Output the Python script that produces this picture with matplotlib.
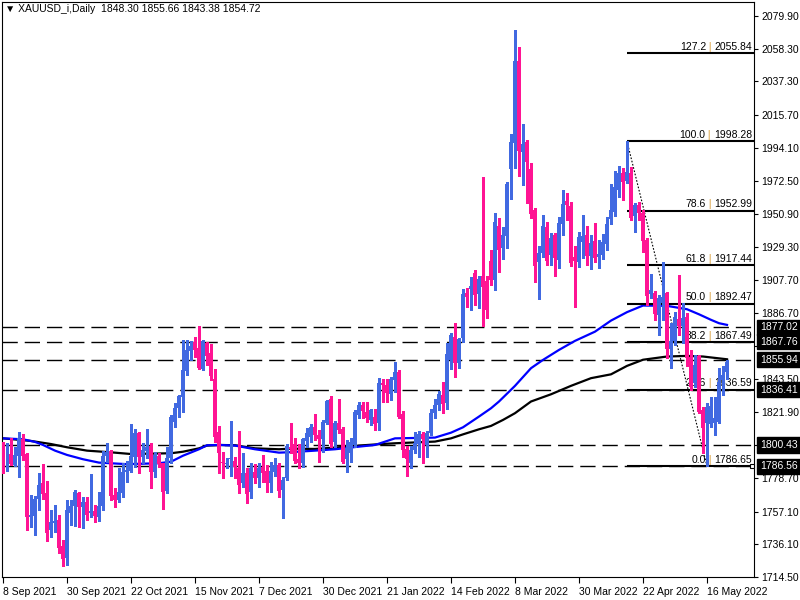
import matplotlib
matplotlib.use("Agg")
import matplotlib.pyplot as plt
import matplotlib.transforms as mtransforms
import numpy as np

plt.rcParams["font.family"] = ["Liberation Sans", "DejaVu Sans"]

# daily OHLC, one entry per bar (bar 0 = 8 Sep 2021)
opens = [1796.1, 1789.6, 1794.6, 1787.5, 1793.3, 1804.4, 1794.6, 1753.4, 1754.5, 1765.1,
         1775.5, 1769.0, 1745.1, 1749.9, 1751.6, 1734.9, 1727.1, 1756.0, 1760.8, 1769.0,
         1760.3, 1763.4, 1756.4, 1757.5, 1753.8, 1760.8, 1793.3, 1796.6, 1767.9, 1764.7,
         1769.4, 1783.1, 1783.8, 1792.9, 1808.1, 1792.9, 1796.6, 1799.8, 1783.1, 1793.3,
         1788.6, 1770.7, 1792.2, 1815.7, 1824.4, 1832.0, 1848.9, 1861.9, 1867.8, 1863.4,
         1849.8, 1867.1, 1860.2, 1843.3, 1809.2, 1789.6, 1788.1, 1791.1, 1790.0, 1785.3,
         1775.5, 1782.0, 1770.1, 1783.2, 1779.2, 1786.0, 1783.8, 1776.0, 1783.2, 1787.5,
         1771.2, 1778.8, 1799.0, 1801.2, 1791.4, 1789.0, 1803.4, 1805.9, 1812.0, 1807.0,
         1804.2, 1815.1, 1830.3, 1802.7, 1814.6, 1810.9, 1791.2, 1795.1, 1800.5, 1820.1,
         1826.6, 1822.2, 1816.8, 1819.0, 1814.6, 1840.7, 1839.6, 1833.7, 1842.8, 1847.8,
         1820.5, 1797.7, 1789.0, 1797.2, 1801.1, 1807.4, 1800.5, 1808.5, 1821.1, 1826.6,
         1833.1, 1827.6, 1855.9, 1870.6, 1854.1, 1870.0, 1899.3, 1902.3, 1912.3, 1898.8,
         1910.6, 1907.3, 1920.6, 1908.0, 1943.1, 1928.6, 1936.6, 1980.3, 1997.4, 2050.6,
         1991.5, 1997.8, 1980.3, 1953.6, 1919.9, 1925.8, 1942.3, 1924.2, 1937.3, 1921.0,
         1944.4, 1959.4, 1956.2, 1922.7, 1919.9, 1933.0, 1937.3, 1923.6, 1933.6, 1923.2,
         1924.2, 1931.4, 1947.5, 1952.5, 1966.6, 1977.4, 1972.7, 1977.9, 1949.7, 1956.8,
         1951.4, 1934.0, 1898.9, 1899.7, 1885.2, 1893.0, 1899.7, 1862.8, 1868.0, 1882.4,
         1877.7, 1883.7, 1858.1, 1840.7, 1858.5, 1823.3, 1814.6, 1814.2, 1814.6, 1815.7,
         1842.9, 1848.30]
highs = [1802.7, 1802.0, 1804.8, 1799.4, 1809.0, 1807.7, 1795.1, 1767.9, 1767.5, 1782.0,
         1788.1, 1777.0, 1758.2, 1761.4, 1754.9, 1738.6, 1764.7, 1764.7, 1771.2, 1770.1,
         1766.8, 1766.8, 1781.6, 1761.2, 1769.9, 1796.6, 1801.6, 1797.2, 1772.3, 1785.3,
         1788.6, 1790.1, 1814.2, 1810.7, 1809.2, 1801.6, 1810.9, 1801.6, 1796.1, 1795.1,
         1789.0, 1799.4, 1820.0, 1827.6, 1833.1, 1868.9, 1868.9, 1868.4, 1871.0, 1878.0,
         1868.9, 1867.8, 1866.3, 1849.8, 1812.9, 1796.1, 1791.8, 1816.3, 1792.5, 1809.6,
         1795.5, 1785.3, 1788.6, 1788.1, 1788.6, 1794.0, 1787.5, 1789.7, 1791.8, 1788.6,
         1779.5, 1801.0, 1815.1, 1804.9, 1801.2, 1804.9, 1811.4, 1814.2, 1820.7, 1810.3,
         1816.8, 1829.8, 1832.4, 1816.4, 1830.3, 1812.5, 1803.8, 1804.9, 1823.3, 1828.7,
         1828.7, 1828.7, 1823.8, 1823.8, 1843.9, 1843.3, 1843.3, 1845.0, 1854.3, 1849.3,
         1822.9, 1799.8, 1799.8, 1809.2, 1809.6, 1809.2, 1809.6, 1823.7, 1830.3, 1835.9,
         1841.7, 1866.7, 1873.2, 1879.7, 1870.0, 1901.9, 1902.5, 1909.7, 1914.5, 1910.6,
         1975.3, 1910.6, 1927.5, 1951.4, 1948.1, 1942.3, 1971.5, 2003.1, 2070.8, 2059.5,
         2009.6, 1999.1, 1984.0, 1954.6, 1930.1, 1950.3, 1946.0, 1938.4, 1938.8, 1949.2,
         1966.6, 1964.8, 1959.0, 1930.1, 1939.4, 1950.3, 1943.1, 1937.3, 1945.3, 1934.0,
         1937.9, 1949.2, 1970.5, 1979.2, 1982.2, 1980.7, 1998.28, 1981.8, 1958.4, 1959.0,
         1953.6, 1935.1, 1911.9, 1901.0, 1898.2, 1919.9, 1900.4, 1880.0, 1887.4, 1911.2,
         1892.8, 1886.3, 1862.4, 1859.1, 1859.1, 1825.5, 1827.7, 1832.0, 1832.0, 1850.5,
         1851.6, 1855.66]
lows = [1782.5, 1783.8, 1787.5, 1786.8, 1779.9, 1790.7, 1745.1, 1747.3, 1741.9, 1758.2,
        1765.1, 1738.2, 1740.8, 1744.0, 1729.9, 1721.9, 1722.3, 1748.4, 1747.7, 1747.3,
        1746.2, 1751.6, 1753.8, 1750.6, 1751.2, 1758.2, 1789.6, 1764.7, 1760.3, 1763.5,
        1766.8, 1776.6, 1783.1, 1786.4, 1782.5, 1788.6, 1791.8, 1772.3, 1779.9, 1786.4,
        1758.6, 1769.0, 1788.6, 1812.4, 1818.9, 1822.2, 1846.1, 1855.8, 1858.0, 1849.8,
        1849.3, 1852.6, 1842.8, 1802.7, 1782.0, 1778.8, 1785.3, 1780.3, 1779.0, 1769.4,
        1773.3, 1762.5, 1766.2, 1776.0, 1772.9, 1776.6, 1770.1, 1770.1, 1780.3, 1766.9,
        1752.8, 1777.7, 1795.1, 1788.6, 1785.3, 1786.0, 1799.4, 1802.7, 1803.8, 1789.7,
        1796.2, 1814.2, 1799.4, 1799.4, 1808.1, 1788.6, 1783.2, 1789.7, 1799.4, 1817.9,
        1817.9, 1815.7, 1813.6, 1810.3, 1810.3, 1828.7, 1828.7, 1829.8, 1835.2, 1817.9,
        1792.5, 1780.5, 1785.7, 1795.5, 1792.9, 1789.0, 1792.5, 1807.0, 1817.9, 1823.3,
        1821.6, 1823.7, 1849.8, 1844.6, 1850.4, 1867.8, 1890.6, 1888.4, 1891.7, 1889.9,
        1878.0, 1883.0, 1905.0, 1901.5, 1913.4, 1921.6, 1929.0, 1960.7, 1980.7, 1975.7,
        1969.8, 1958.3, 1948.1, 1906.9, 1895.4, 1922.7, 1917.7, 1917.7, 1910.6, 1915.6,
        1937.3, 1947.0, 1917.1, 1890.2, 1916.2, 1922.1, 1917.7, 1914.9, 1919.9, 1915.6,
        1921.4, 1927.5, 1944.4, 1949.6, 1962.2, 1960.1, 1971.4, 1947.1, 1939.5, 1947.1,
        1926.4, 1891.7, 1896.1, 1882.0, 1872.2, 1882.0, 1857.0, 1850.5, 1865.7, 1872.2,
        1866.7, 1852.0, 1836.4, 1838.5, 1821.1, 1795.1, 1786.65, 1812.5, 1807.0, 1814.6,
        1833.1, 1843.38]
closes = [1783.1, 1795.5, 1788.1, 1794.0, 1804.8, 1793.3, 1753.4, 1754.9, 1765.3, 1774.4,
          1768.4, 1743.0, 1750.1, 1751.0, 1733.6, 1726.2, 1758.2, 1760.8, 1769.9, 1760.3,
          1763.6, 1754.9, 1757.5, 1754.5, 1760.8, 1793.3, 1796.1, 1767.3, 1764.7, 1770.1,
          1783.1, 1784.2, 1793.3, 1808.5, 1792.9, 1797.2, 1799.4, 1783.1, 1794.0, 1788.1,
          1770.1, 1792.2, 1818.9, 1824.4, 1832.4, 1849.3, 1862.4, 1865.0, 1862.4, 1850.4,
          1868.4, 1858.5, 1845.4, 1805.5, 1795.5, 1788.6, 1789.0, 1791.8, 1786.0, 1774.4,
          1782.0, 1768.6, 1785.3, 1778.8, 1785.3, 1782.1, 1775.6, 1783.8, 1787.5, 1770.8,
          1777.7, 1799.9, 1797.7, 1790.3, 1788.6, 1804.2, 1808.1, 1812.0, 1807.0, 1804.2,
          1815.7, 1829.4, 1801.2, 1815.1, 1810.3, 1789.7, 1798.4, 1802.7, 1822.2, 1826.6,
          1822.7, 1817.9, 1823.3, 1814.2, 1840.7, 1839.6, 1834.6, 1843.3, 1847.8, 1818.9,
          1797.2, 1791.4, 1797.2, 1802.0, 1807.4, 1804.2, 1808.1, 1821.1, 1826.6, 1833.5,
          1827.0, 1859.8, 1872.1, 1853.7, 1869.3, 1898.8, 1897.1, 1904.0, 1898.2, 1908.6,
          1903.6, 1888.4, 1908.0, 1945.9, 1927.5, 1937.3, 1970.5, 1997.8, 2050.6, 1992.0,
          1996.5, 1985.0, 1950.9, 1917.1, 1925.3, 1943.1, 1920.6, 1935.1, 1922.1, 1945.3,
          1957.5, 1956.8, 1919.2, 1920.6, 1935.7, 1936.6, 1923.6, 1932.3, 1922.5, 1924.9,
          1932.9, 1944.4, 1953.6, 1968.3, 1977.4, 1972.0, 1978.5, 1948.2, 1956.8, 1951.8,
          1933.6, 1897.6, 1901.5, 1885.9, 1896.1, 1897.0, 1863.0, 1868.5, 1884.1, 1878.0,
          1883.0, 1857.0, 1838.5, 1852.6, 1822.2, 1811.4, 1825.5, 1825.9, 1817.9, 1841.8,
          1846.1, 1854.72]

# moving averages at a few bars
ma_fast_bars = [0, 5, 8, 10, 13, 16, 20, 24, 31, 39, 42, 45, 49, 51, 54, 58, 63, 69, 72,
                78, 83, 89, 93, 98, 108, 112, 115, 119, 122, 124, 128, 132, 135, 139, 143,
                148, 152, 156, 160, 166, 171, 174, 177, 179, 181]
ma_fast = [1804.8, 1804.2, 1802.5, 1800.5, 1796.8, 1794.0, 1791.2, 1789.0, 1788.0, 1788.6,
           1789.6, 1793.5, 1797.7, 1800.3, 1800.5, 1800.1, 1797.7, 1795.5, 1795.8, 1796.8,
           1797.7, 1799.4, 1800.5, 1804.8, 1805.3, 1808.5, 1812.0, 1819.0, 1824.4, 1828.8,
           1839.0, 1850.5, 1855.9, 1862.4, 1868.3, 1874.3, 1881.5, 1887.0, 1891.3, 1891.1,
           1888.9, 1885.6, 1882.0, 1879.8, 1878.7]
ma_slow_bars = [0, 7, 12, 16, 21, 27, 32, 42, 45, 49, 51, 54, 58, 63, 69, 72, 78, 83, 89,
                94, 98, 108, 112, 115, 119, 122, 125, 128, 132, 137, 142, 147, 152, 156,
                160, 166, 171, 175, 181]
ma_slow = [1804.8, 1803.1, 1801.1, 1799.0, 1796.8, 1795.7, 1794.6, 1795.1, 1796.1, 1798.3,
           1800.1, 1800.5, 1800.3, 1798.3, 1797.7, 1798.1, 1797.9, 1798.8, 1800.1, 1801.0,
           1801.6, 1802.7, 1804.8, 1807.4, 1810.7, 1812.9, 1816.8, 1821.2, 1828.8, 1833.5,
           1839.0, 1844.0, 1846.5, 1852.0, 1856.0, 1858.1, 1858.5, 1858.1, 1856.3]

# fibonacci retracement from bar 156 high to bar 176 low
fib_ratios = ["127.2", "100.0", "78.6", "61.8", "50.0", "38.2", "23.6", "0.0"]
fib_prices = [2055.84, 1998.28, 1952.99, 1917.44, 1892.47, 1867.49, 1836.59, 1786.65]
fib_from_bar, fib_to_bar = 156, 176

levels = [1877.02, 1867.76, 1855.94, 1836.41, 1800.43, 1786.56]

y_ticks = [2079.90, 2058.30, 2037.30, 2015.70, 1994.10, 1972.50, 1950.90, 1929.30,
           1907.70, 1886.70, 1865.10, 1843.50, 1821.90, 1800.30, 1778.70, 1757.10,
           1736.10, 1714.50]
hidden_ticks = [1865.10, 1800.30]  # covered by the price boxes
date_bars = [0, 16, 32, 48, 64, 80, 96, 112, 128, 144, 160, 176]
date_labels = ["8 Sep 2021", "30 Sep 2021", "22 Oct 2021", "15 Nov 2021", "7 Dec 2021",
               "30 Dec 2021", "21 Jan 2022", "14 Feb 2022", "8 Mar 2022", "30 Mar 2022",
               "22 Apr 2022", "16 May 2022"]

UP = "#4169E1"
DOWN = "#FF1493"
FS = 7.5

fig = plt.figure(figsize=(8, 6), dpi=100)
ax = fig.add_axes([2 / 800, 23 / 600, 752 / 800, 575 / 600])

o = np.array(opens)
h = np.array(highs)
l = np.array(lows)
c = np.array(closes)
x = np.arange(len(o))
col = np.where(c >= o, UP, DOWN)

# horizontal support/resistance lines
for lv in levels:
    ax.axhline(lv, color="black", lw=1.0, dashes=(11, 5), zorder=1)

# moving averages
ax.plot(ma_slow_bars, ma_slow, color="black", lw=1.6, zorder=2)
ax.plot(ma_fast_bars, ma_fast, color="#0000FF", lw=1.6, zorder=2)

# fibonacci lines + labels
xmax = 187.75
for r, p in zip(fib_ratios, fib_prices):
    ax.plot([fib_from_bar, xmax], [p, p], color="black", lw=1.5, zorder=2,
            solid_capstyle="butt")
    t_val = ax.annotate(f"{p:.2f}", xy=(xmax - 0.5, p), xytext=(0, 1),
                        textcoords="offset points", ha="right", va="bottom",
                        fontsize=FS, zorder=3)
    t_bar = ax.annotate(" | ", xy=(0, 0), xycoords=t_val, ha="right", va="bottom",
                        fontsize=FS, color="#D9A040", zorder=3)
    ax.annotate(r, xy=(0, 0), xycoords=t_bar, ha="right", va="bottom",
                fontsize=FS, zorder=3)
ax.plot([fib_from_bar, fib_to_bar], [fib_prices[1], fib_prices[-1]], color="black",
        lw=0.8, ls=(0, (1.5, 1.5)), zorder=2)
ax.plot([xmax - 0.4], [fib_prices[-1]], marker="s", ms=3.5, mfc="white", mec="black",
        mew=0.8, clip_on=False, zorder=6)

# candles
ax.vlines(x, l, h, colors=col, lw=0.75, antialiased=False, zorder=4)
body = np.maximum(np.abs(c - o), 0.7)
ax.bar(x, body, bottom=np.minimum(o, c), width=0.75, color=col, linewidth=0,
       antialiased=False, zorder=5)

ax.set_xlim(-0.25, xmax)
ax.set_ylim(1714.5, 2089.0)

ax.yaxis.tick_right()
ax.set_yticks(y_ticks, ["" if v in hidden_ticks else f"{v:.2f}" for v in y_ticks])
ax.set_xticks(date_bars, date_labels)
for t in ax.get_xticklabels():
    t.set_ha("left")
ax.tick_params(axis="y", direction="out", length=3, width=0.8, pad=2, labelsize=FS)
ax.tick_params(axis="x", direction="out", length=4, width=0.8, pad=3, labelsize=FS)
for s in ax.spines.values():
    s.set_color("black")
    s.set_linewidth(0.8)

# price boxes for the horizontal lines on the price scale
trans = mtransforms.blended_transform_factory(ax.transAxes, ax.transData)
for lv in levels:
    ax.text(1.0 + 6 / 752, lv, f"{lv:.2f}", transform=trans, ha="left", va="center",
            fontsize=FS, color="white", clip_on=False, zorder=10,
            bbox=dict(boxstyle="square,pad=0.25", fc="black", ec="black"))

fig.text(5 / 800, 1 - 9 / 600,
         "\u25bc XAUUSD_i,Daily  1848.30 1855.66 1843.38 1854.72",
         fontsize=FS, va="center", ha="left")

fig.savefig("out.png", dpi=100)
plt.close(fig)
